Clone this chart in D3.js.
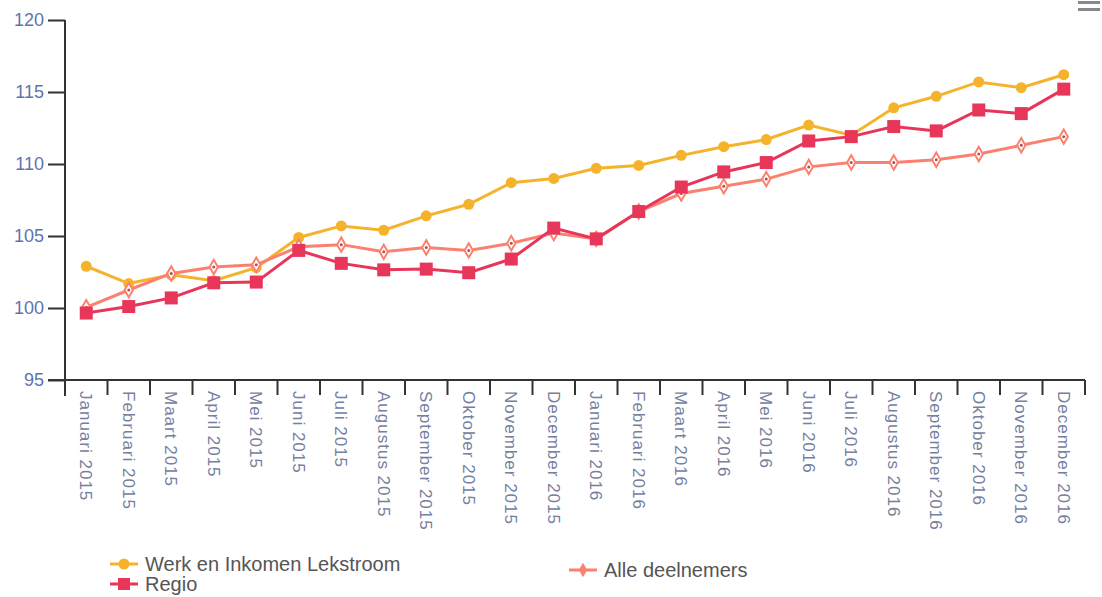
<!DOCTYPE html>
<html><head><meta charset="utf-8">
<script src="https://cdn.jsdelivr.net/npm/d3@7"></script>
<style>body{margin:0;background:#fff}svg{display:block}</style>
</head><body>
<svg id="c" width="1102" height="597"></svg>
<script>
const categories = ["Januari 2015","Februari 2015","Maart 2015","April 2015","Mei 2015","Juni 2015","Juli 2015","Augustus 2015","September 2015","Oktober 2015","November 2015","December 2015","Januari 2016","Februari 2016","Maart 2016","April 2016","Mei 2016","Juni 2016","Juli 2016","Augustus 2016","September 2016","Oktober 2016","November 2016","December 2016"];
const werk = [102.9,101.7,102.3,101.9,102.8,104.9,105.7,105.4,106.4,107.2,108.7,109.0,109.7,109.9,110.6,111.2,111.7,112.7,112.0,113.9,114.7,115.7,115.3,116.2];
const regio = [99.65,100.1,100.7,101.75,101.8,104.0,103.1,102.65,102.7,102.45,103.4,105.55,104.8,106.7,108.4,109.45,110.1,111.6,111.9,112.6,112.3,113.75,113.5,115.2];
const alle = [100.05,101.25,102.4,102.85,103.0,104.25,104.4,103.9,104.2,104.0,104.5,105.2,104.8,106.7,107.95,108.45,108.95,109.8,110.1,110.1,110.3,110.7,111.3,111.9];
const yTicks = [95,100,105,110,115,120];
const seriesNames = ["Werk en Inkomen Lekstroom","Regio","Alle deelnemers"];

const svg = d3.select("#c");
const x = d3.scaleBand().domain(categories).range([65,1085]);
const y = d3.scaleLinear().domain([95,120]).range([380,20]);

// y axis
const ya = svg.append("g").attr("transform","translate(65,0)")
  .call(d3.axisLeft(y).tickValues(yTicks).tickSize(17).tickPadding(4));
ya.select(".domain").attr("stroke","#333").attr("stroke-width",2).attr("d","M0,20V396");
ya.selectAll(".tick line").attr("stroke","#333").attr("stroke-width",2);
ya.selectAll(".tick text").attr("fill","#5f74ad").attr("font-family","Liberation Sans, Arial").attr("font-size",18);

// x axis
const xa = svg.append("g").attr("transform","translate(0,380)")
  .call(d3.axisBottom(x).tickSize(0));
xa.select(".domain").attr("stroke","#333").attr("stroke-width",2).attr("d","M48,0H1085");
const bounds = categories.map(c=>x(c)).concat([x.range()[1]]);
xa.selectAll(".bt").data(bounds).enter().append("line").attr("class","bt")
  .attr("x1",d=>d).attr("x2",d=>d).attr("y1",0).attr("y2",15).attr("stroke","#333").attr("stroke-width",2);
xa.selectAll(".tick text")
  .attr("transform","translate(0,9) rotate(90)")
  .attr("text-anchor","start").attr("dy","0.35em").attr("x",2).attr("y",0)
  .attr("fill","#7580a0").attr("font-family","Liberation Sans, Arial").attr("font-size",17)
  .attr("letter-spacing",1);

const cx = c => x(c)+x.bandwidth()/2;
const line = d3.line().x((d,i)=>cx(categories[i])).y(d=>y(d));

const cY = "#f5b32c", cR = "#e8355a", cA = "#fb8070";

// Werk
svg.append("path").datum(werk).attr("d",line).attr("fill","none").attr("stroke",cY).attr("stroke-width",3);
svg.selectAll(".pw").data(werk).enter().append("circle")
  .attr("cx",(d,i)=>cx(categories[i])).attr("cy",d=>y(d)).attr("r",5.5).attr("fill",cY);

// Alle
svg.append("path").datum(alle).attr("d",line).attr("fill","none").attr("stroke",cA).attr("stroke-width",3);
const dia = d3.symbol().type(d3.symbolDiamond).size(60);
svg.selectAll(".pa").data(alle).enter().append("path")
  .attr("transform",(d,i)=>`translate(${cx(categories[i])},${y(d)})`)
  .attr("d",dia).attr("fill","#fff").attr("stroke",cA).attr("stroke-width",2);
svg.selectAll(".pa2").data(alle).enter().append("circle")
  .attr("cx",(d,i)=>cx(categories[i])).attr("cy",d=>y(d)).attr("r",1.5).attr("fill","#b05050");

// Regio
svg.append("path").datum(regio).attr("d",line).attr("fill","none").attr("stroke",cR).attr("stroke-width",3);
svg.selectAll(".pr").data(regio).enter().append("rect")
  .attr("x",(d,i)=>cx(categories[i])-6.5).attr("y",d=>y(d)-6.5).attr("width",13).attr("height",13).attr("fill",cR);

// legend
const lg = svg.append("g").attr("font-family","Liberation Sans, Arial").attr("font-size",20).attr("fill","#555");
const legendItems = [
  {name:seriesNames[0], color:cY, x:110, y:564, shape:"circle"},
  {name:seriesNames[1], color:cR, x:110, y:584, shape:"square"},
  {name:seriesNames[2], color:cA, x:569, y:570, shape:"diamond"}
];
legendItems.forEach(it=>{
  const g = lg.append("g").attr("transform",`translate(${it.x},${it.y})`);
  g.append("line").attr("x1",0).attr("x2",28).attr("y1",0).attr("y2",0).attr("stroke",it.color).attr("stroke-width",3);
  if(it.shape==="circle") g.append("circle").attr("cx",14).attr("cy",0).attr("r",5.5).attr("fill",it.color);
  if(it.shape==="square") g.append("rect").attr("x",8).attr("y",-6).attr("width",12).attr("height",12).attr("fill",it.color);
  if(it.shape==="diamond") g.append("path").attr("transform","translate(14,0)").attr("d",dia).attr("fill",it.color);
  g.append("text").attr("x",35).attr("y",0).attr("dy","0.35em").text(it.name);
});

// menu icon
const mi = svg.append("g").attr("fill","#888");
[0,7].forEach(o=>mi.append("rect").attr("x",1078).attr("y",1+o).attr("width",22).attr("height",3));
</script>
</body></html>
